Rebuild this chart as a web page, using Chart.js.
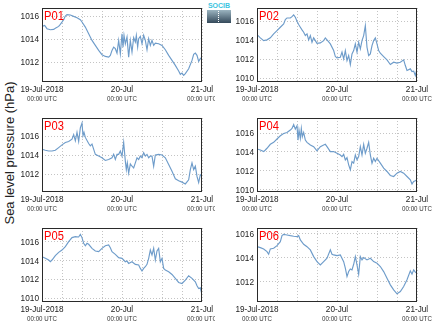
<!DOCTYPE html>
<html>
<head>
<meta charset="utf-8">
<script src="https://cdn.jsdelivr.net/npm/chart.js@4.4.1/dist/chart.umd.min.js"></script>
<style>
  html, body { margin: 0; padding: 0; background: #fff; }
  body { width: 435px; height: 327px; position: relative; overflow: hidden; font-family: "Liberation Sans", Arial, sans-serif; }
  canvas { position: absolute; }
  #ylabel { position: absolute; left: 9px; top: 153px; transform: translate(-50%, -50%) rotate(-90deg); white-space: nowrap; font-size: 13px; color: #222; }
  #logo { position: absolute; left: 207px; top: 2px; width: 24px; height: 21px; }
  #logo .t { font-size: 7px; line-height: 7px; color: #3cc4e0; letter-spacing: 0px; text-align: center; font-weight: bold; }
  #logo .b { margin-top: 1px; height: 13px; background: linear-gradient(#9bb4c0, #34495a); position: relative; }
  #logo .b span { position: absolute; left: 11px; top: 1px; width: 1px; height: 11px; border-left: 1px dotted #fff; }
</style>
</head>
<body>
<div id="ylabel">Sea level pressure (hPa)</div>
<div id="logo"><div class="t">SOCIB</div><div class="b"><span></span></div></div>
<canvas id="c1"></canvas>
<canvas id="c2"></canvas>
<canvas id="c3"></canvas>
<canvas id="c4"></canvas>
<canvas id="c5"></canvas>
<canvas id="c6"></canvas>
<script>
// ---- Data (hours since 19-Jul-2018 00:00 UTC, sea level pressure in hPa) ----
const panelNames = ['P01', 'P02', 'P03', 'P04', 'P05', 'P06'];

const p01Hours = [0,0.8,1.5,2.5,3.5,4,5,5.5,6.5,7,7.5,8.5,9.5,10.5,11.5,12,13,14,15,16,17,18,19,20,20.5,21,21.5,22,22.5,23,23.5,24,24.3,24.6,25,25.5,26,26.5,27,27.5,28,28.3,28.7,29,29.5,30,30.5,31,31.5,32,32.5,33,33.5,34,35,36,37,38,39,40,41,41.5,42,42.5,43,44,45,45.5,46,46.5,47,47.5,48];
const p01Values = [1015.10,1015.19,1014.90,1014.81,1014.84,1014.93,1015.10,1015.28,1015.68,1016.00,1016.12,1016.09,1015.97,1015.86,1015.68,1015.48,1015.04,1014.46,1013.88,1013.45,1013.01,1012.64,1012.49,1012.43,1012.58,1013.01,1013.30,1013.16,1012.78,1013.88,1012.72,1014.46,1013.30,1014.32,1013.59,1014.17,1012.43,1013.88,1012.87,1014.12,1013.74,1014.32,1013.30,1014.03,1014.23,1013.59,1014.32,1013.88,1013.07,1014.03,1013.45,1013.88,1013.45,1013.65,1013.59,1013.45,1013.07,1012.58,1012.14,1011.71,1011.22,1010.93,1011.04,1010.84,1010.99,1011.42,1012.14,1012.67,1012.78,1012.58,1012.06,1012.29,1012.43];

const p02Hours = [0,1,2,3,4,5,6,7,8,8.5,9,10,10.5,11,11.5,12,12.5,13,13.5,14,14.5,15,15.5,16,16.5,17,17.5,18,19,20,20.5,21,22,23,23.5,24,25,25.5,26,26.5,27,27.5,28,28.5,29,29.5,30,30.5,31,31.5,32,32.5,33,33.5,34,34.5,35,35.5,36,36.5,37,38,39,40,41,42,43,44,44.5,45,46,46.5,47,47.5,48];
const p02Values = [1014.60,1014.25,1013.96,1014.04,1014.25,1014.67,1015.02,1015.37,1015.72,1016.18,1016.35,1016.35,1016.49,1016.67,1016.42,1016.00,1015.65,1015.37,1015.09,1014.84,1014.49,1014.67,1014.04,1014.49,1013.79,1014.25,1013.96,1013.68,1013.72,1013.96,1014.25,1014.04,1013.61,1012.91,1012.28,1012.14,1012.21,1012.74,1012.04,1012.91,1011.86,1012.39,1011.44,1012.56,1012.91,1013.61,1012.74,1013.79,1013.09,1013.96,1014.49,1015.54,1013.26,1012.39,1012.56,1013.44,1013.96,1014.25,1013.61,1012.91,1012.63,1012.28,1011.93,1011.44,1011.68,1011.58,1011.68,1011.93,1011.33,1010.81,1010.98,1010.70,1010.74,1010.28,1010.98];

const p03Hours = [0,1,2,3,4,5,6,7,8,9,9.5,10,10.5,11,11.5,12,12.3,12.6,13,14,14.5,15,16,17,18,19,20,21,21.5,22,22.5,23,23.5,24,24.5,25,25.3,25.6,26,26.5,27,27.5,28,28.5,29,29.5,30,30.5,31,31.5,32,32.5,33,33.5,34,35,36,37,38,39,40,41,42,43,44,44.5,45,45.5,46,46.5,47,47.5,48];
const p03Values = [1014.63,1014.52,1014.45,1014.45,1014.52,1014.81,1015.10,1015.35,1015.46,1015.71,1016.18,1015.53,1016.43,1015.46,1016.90,1017.41,1016.07,1016.43,1015.89,1015.24,1014.99,1015.17,1014.09,1013.91,1013.73,1013.44,1013.55,1013.73,1014.09,1013.55,1014.09,1014.09,1014.45,1013.91,1015.35,1013.37,1012.47,1013.19,1012.11,1013.08,1012.83,1012.65,1013.19,1013.73,1013.55,1013.91,1013.73,1014.27,1013.91,1014.09,1013.73,1013.91,1013.91,1012.83,1014.02,1014.09,1014.02,1013.73,1013.01,1012.29,1011.50,1011.28,1011.14,1010.95,1011.39,1012.47,1013.19,1012.47,1012.83,1011.75,1011.10,1011.93,1011.86];

const p04Hours = [0,1,2,2.5,3,4,5,6,7,8,9,10,10.5,11,11.5,12,12.3,12.6,13,13.3,13.6,14,14.5,15,16,17,18,19,20,20.5,21,22,23,24,25,25.5,26,26.5,27,27.5,28,28.5,29,29.5,30,30.5,31,31.5,32,32.5,33,33.5,34,34.5,35,35.5,36,37,38,39,40,41,42,43,44,45,46,46.5,47,47.5,48];
const p04Values = [1014.32,1014.21,1014.04,1014.21,1014.39,1014.81,1015.02,1015.37,1015.72,1015.96,1016.07,1016.32,1016.49,1016.91,1016.42,1016.77,1015.26,1016.32,1015.44,1016.49,1015.61,1016.07,1015.26,1015.02,1014.74,1014.56,1014.11,1014.56,1014.74,1014.81,1014.56,1014.04,1014.04,1013.86,1013.68,1013.51,1013.75,1013.16,1013.40,1012.63,1012.11,1012.98,1012.81,1013.68,1013.16,1013.51,1014.56,1013.68,1014.81,1013.86,1014.39,1015.02,1013.68,1012.81,1013.33,1012.98,1013.33,1012.81,1012.28,1011.93,1011.51,1011.40,1011.75,1011.93,1011.75,1011.40,1011.05,1010.60,1010.88,1010.95,1011.05];

const p05Hours = [0,1,2,2.5,3,4,5,6,7,8,9,10,11,11.5,12,12.5,13,13.5,14,15,16,17,18,19,20,20.5,21,22,23,24,25,25.5,26,27,28,29,29.5,30,30.5,31,31.5,32,32.5,33,33.5,34,34.5,35,35.5,36,36.5,37,38,39,40,41,42,43,44,45,46,46.5,47,47.5,48];
const p05Values = [1014.40,1014.23,1014.05,1013.87,1014.05,1014.51,1014.86,1015.11,1015.47,1016.00,1016.43,1016.53,1016.50,1016.78,1016.43,1015.82,1015.57,1015.82,1015.72,1015.29,1015.01,1014.94,1015.29,1015.57,1015.65,1015.36,1014.94,1014.65,1014.30,1014.23,1013.87,1013.94,1013.69,1013.87,1013.59,1013.52,1013.16,1012.88,1013.16,1013.34,1013.59,1014.23,1015.11,1014.58,1015.29,1014.05,1015.01,1015.29,1013.87,1014.23,1013.16,1012.98,1012.81,1012.52,1012.10,1011.67,1011.56,1011.92,1012.38,1012.10,1011.74,1011.31,1011.03,1011.10,1010.39];

const p06Hours = [0,1,2,3,3.5,4,5,6,7,7.5,8,9,10,11,12,12.5,13,14,15,16,17,18,19,20,21,22,22.5,23,24,25,26,26.5,27,27.5,28,28.5,29,29.5,30,30.5,31,31.5,32,33,34,35,36,37,38,39,40,41,42,43,44,45,46,46.5,47,47.5,48];
const p06Values = [1014.94,1014.86,1014.75,1014.53,1014.31,1014.75,1014.81,1015.03,1015.36,1015.86,1015.97,1015.92,1015.86,1015.81,1015.78,1015.86,1015.50,1015.14,1014.94,1014.67,1014.11,1013.69,1013.42,1013.69,1013.97,1014.67,1014.31,1014.25,1014.19,1014.25,1013.69,1013.14,1012.44,1012.86,1013.08,1013.00,1013.47,1014.11,1013.42,1012.64,1014.11,1013.83,1014.03,1013.83,1013.97,1013.69,1013.56,1013.28,1012.86,1012.31,1011.75,1011.33,1011.00,1011.19,1011.61,1012.17,1012.92,1012.64,1013.00,1012.81,1012.72];

// axis ranges (hPa) per panel
const yMins = [1010.35, 1009.70, 1010.20, 1009.86, 1009.70, 1010.40];
const yMaxs = [1016.70, 1017.40, 1017.95, 1017.60, 1017.45, 1016.50];

// x tick labels
const xTickHours = [0, 24, 48];
const xTickDates = ['19-Jul-2018', '20-Jul', '21-Jul'];
const xTickTime = '00:00 UTC';

const allHours = [p01Hours, p02Hours, p03Hours, p04Hours, p05Hours, p06Hours];
const allValues = [p01Values, p02Values, p03Values, p04Values, p05Values, p06Values];

// ---- Rendering ----
const FONT = '"Liberation Sans", Arial, sans-serif';
function squishText(ctx, text, x, y, size, sx, align, base, color) {
  ctx.save();
  ctx.translate(x, y);
  ctx.scale(sx, 1);
  ctx.font = size + 'px ' + FONT;
  ctx.textAlign = align;
  ctx.textBaseline = base;
  ctx.fillStyle = color;
  ctx.fillText(text, 0, 0);
  ctx.restore();
}

const decor = {
  id: 'decor',
  afterDraw(chart, args, opts) {
    const ctx = chart.ctx, a = chart.chartArea, xs = chart.scales.x, ys = chart.scales.y;
    ctx.save();
    ctx.strokeStyle = '#2a2a2a';
    ctx.lineWidth = 1;
    ctx.strokeRect(Math.round(a.left) + 0.5, Math.round(a.top) + 0.5, Math.round(a.right - a.left) - 1, Math.round(a.bottom - a.top));
    ys.ticks.forEach(t => {
      if (t.value < ys.min || t.value > ys.max) return;
      squishText(ctx, String(t.value), a.left - 3, ys.getPixelForValue(t.value) + 0.5, 9.5, 0.87, 'right', 'middle', '#222');
    });
    xTickHours.forEach((h, i) => {
      const px = xs.getPixelForValue(h);
      squishText(ctx, xTickDates[i], px, a.bottom + 8.5, 9.5, 0.86, 'center', 'middle', '#222');
      squishText(ctx, xTickTime, px, a.bottom + 18.5, 7, 0.88, 'center', 'middle', '#333');
    });
    squishText(ctx, opts.name, a.left + 2, a.top + 12, 12, 0.93, 'left', 'alphabetic', '#ff0000');
    ctx.restore();
  }
};

const canvasLeft = [0, 215];
const canvasWidth = [215, 220];
const rowTop = [0, 110, 220];

for (let i = 0; i < 6; i++) {
  const col = i % 2, row = Math.floor(i / 2);
  const cv = document.getElementById('c' + (i + 1));
  const w = canvasWidth[col], h = 110;
  cv.width = w; cv.height = h;
  cv.style.left = canvasLeft[col] + 'px';
  cv.style.top = rowTop[row] + 'px';
  cv.style.width = w + 'px'; cv.style.height = h + 'px';
  const pts = allHours[i].map((hh, k) => ({ x: hh, y: allValues[i][k] }));
  new Chart(cv, {
    type: 'line',
    data: { datasets: [{ data: pts, borderColor: '#6e9cca', borderWidth: 1.15, pointRadius: 0, tension: 0, fill: false }] },
    plugins: [decor],
    options: {
      responsive: false,
      animation: false,
      devicePixelRatio: 1,
      layout: { autoPadding: false, padding: { left: 0, right: w - 202, top: 8, bottom: 0 } },
      plugins: { legend: { display: false }, tooltip: { enabled: false }, decor: { name: panelNames[i] } },
      scales: {
        x: {
          type: 'linear', min: 0, max: 48,
          ticks: { stepSize: 6, display: false, includeBounds: false },
          grid: { color: '#c4c4c4', lineWidth: 1, drawTicks: false },
          border: { display: false, dash: [1, 2] },
          afterFit(s) { s.height = 29; s.paddingLeft = 0; s.paddingRight = 0; }
        },
        y: {
          min: yMins[i], max: yMaxs[i],
          ticks: { stepSize: 2, display: false, includeBounds: false },
          grid: { color: '#c4c4c4', lineWidth: 1, drawTicks: false },
          border: { display: false, dash: [1, 2] },
          afterFit(s) { s.width = 42; s.paddingTop = 0; s.paddingBottom = 0; }
        }
      }
    }
  });
}
</script>
</body>
</html>
